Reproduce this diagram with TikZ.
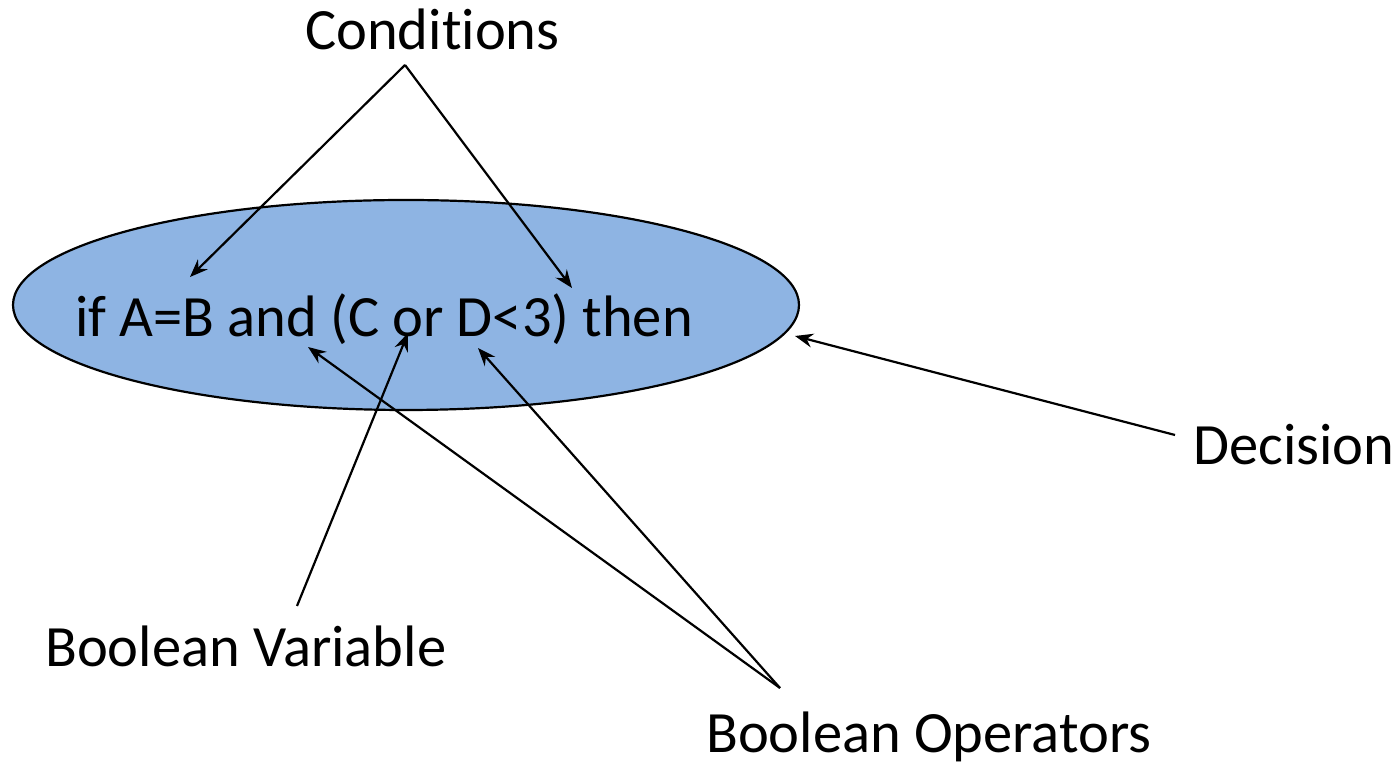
\documentclass[tikz,border=0pt]{standalone}
\usepackage{fontspec}
\setmainfont{Carlito}[Ligatures={NoCommon}]
\usetikzlibrary{arrows.meta}
\definecolor{fillblue}{HTML}{8EB4E3}
\tikzset{
  lbl/.style={anchor=base west, inner sep=0pt, font=\fontsize{58.5}{70}\selectfont},
  pointer/.style={line width=2.2pt, -{Stealth[length=18pt, width=14pt, inset=6pt]}},
}
\begin{document}
\begin{tikzpicture}[x=1pt, y=1pt]
\useasboundingbox (0,0) rectangle (1395,765);
% the statement
\draw[fill=fillblue, line width=2.2pt] (406,460) ellipse [x radius=393, y radius=105];
\node[lbl] (stmt) at (75,428) {if A=B and (C or D<3) then};
% labels
\node[lbl] (cond) at (305,715) {Conditions};
\node[lbl] (dec) at (1193,300) {Decision};
\node[lbl] (bvar) at (45,98) {Boolean Variable};
\node[lbl] (bops) at (706,12) {Boolean Operators};
% connector ends
\coordinate (condfoot) at (405,700);
\coordinate (condA) at (190,488);
\coordinate (condB) at (572,477);
\coordinate (decfoot) at (1175,330);
\coordinate (decTip) at (795,429);
\coordinate (bvarfoot) at (297,159);
\coordinate (bvarTip) at (408,432);
\coordinate (bopsfoot) at (780,77);
\coordinate (bopsA) at (308,418);
\coordinate (bopsB) at (478,417);
% connectors
\draw[pointer] (condfoot) -- (condA);
\draw[pointer] (condfoot) -- (condB);
\draw[pointer] (decfoot) -- (decTip);
\draw[pointer] (bvarfoot) -- (bvarTip);
\draw[pointer] (bopsfoot) -- (bopsA);
\draw[pointer] (bopsfoot) -- (bopsB);
\end{tikzpicture}
\end{document}
